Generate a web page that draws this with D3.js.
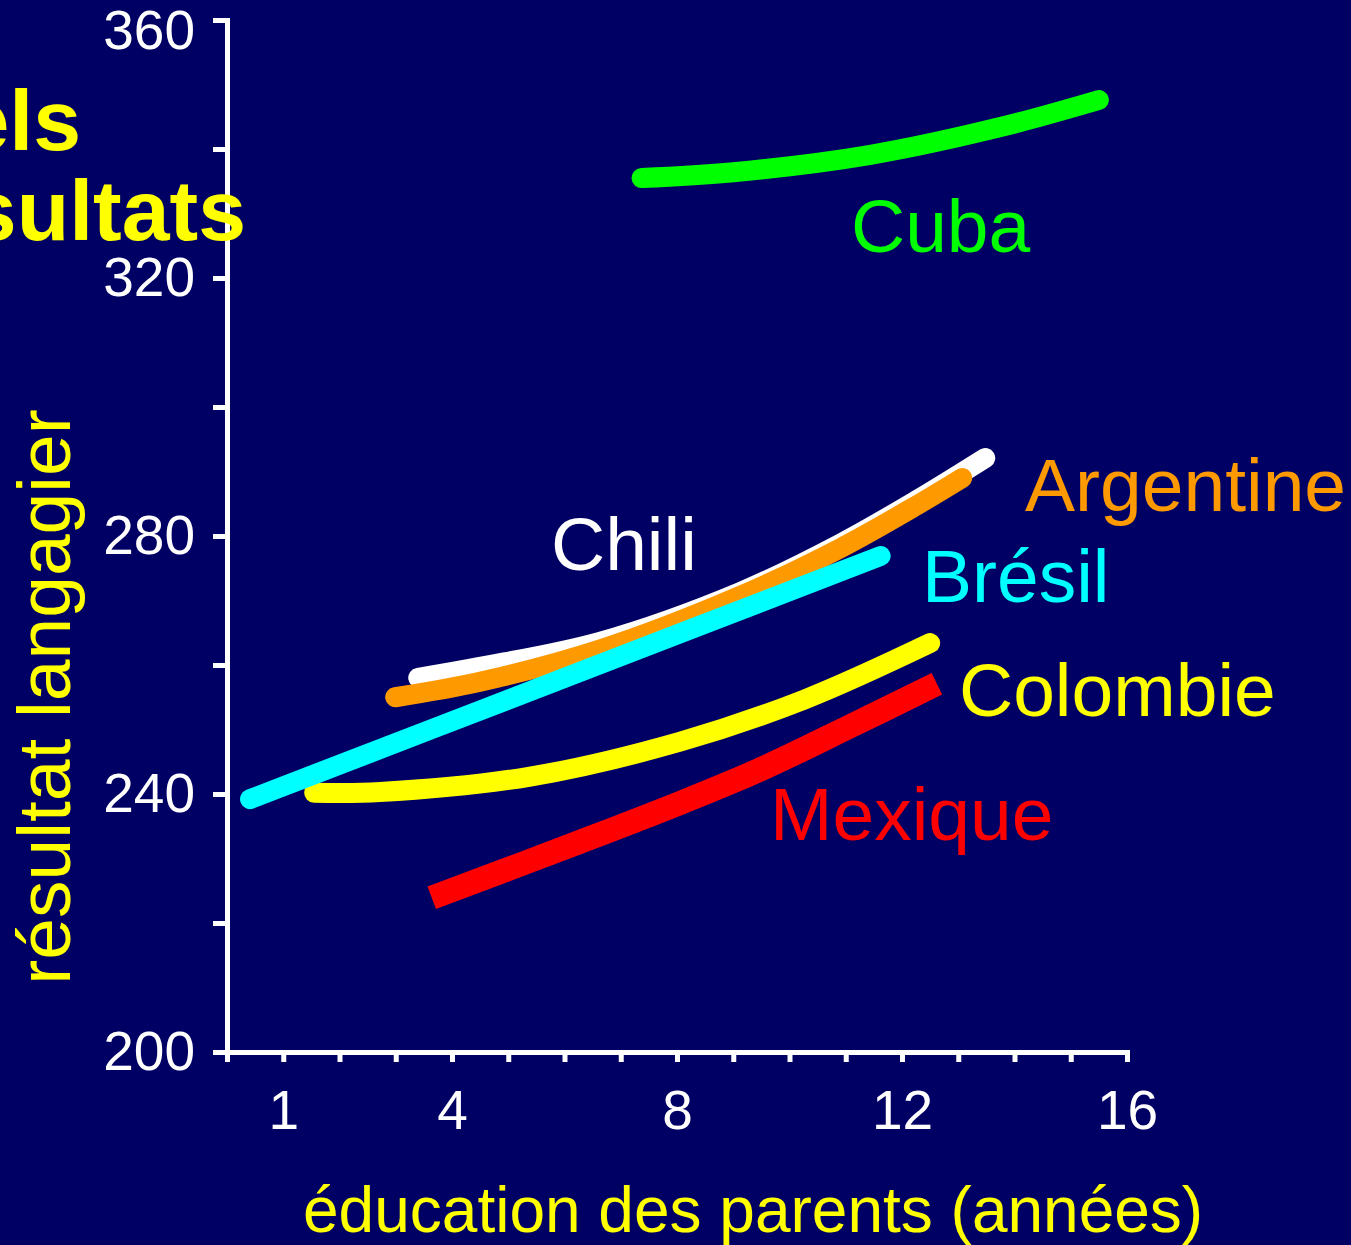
<!DOCTYPE html>
<html>
<head>
<meta charset="utf-8">
<script src="https://cdn.jsdelivr.net/npm/d3@7"></script>
<style>
  html, body { margin: 0; padding: 0; background: #000064; }
  svg { display: block; }
  text { font-family: "Liberation Sans", Arial, Helvetica, sans-serif; }
</style>
</head>
<body>
<svg id="chart" width="1351" height="1245"></svg>
<script>
// Years of parental education (x) against language score (y), by country
const countries = ["Chili", "Argentine", "Colombie", "Brésil", "Mexique", "Cuba"];
const colors    = ["#ffffff", "#ff9900", "#ffff00", "#00ffff", "#ff0000", "#00ff00"];
const widths    = [20, 20, 20, 20, 24, 20];

const chiliX     = [3.40, 4.50, 6.63, 9.12, 10.90, 12.27, 13.48];
const chiliY     = [258.0, 259.7, 263.6, 271.3, 278.8, 285.6, 292.1];
const argentineX = [2.99, 4.50, 6.63, 9.12, 10.90, 12.27, 13.07];
const argentineY = [255.0, 257.4, 262.4, 270.7, 278.1, 284.8, 289.0];
const colombieX  = [1.55, 2.72, 5.39, 8.05, 10.28, 12.5];
const colombieY  = [240.2, 240.3, 242.7, 248.1, 254.7, 263.4];
const bresilX    = [0.41, 6.0, 11.62];
const bresilY    = [239.2, 258.0, 276.9];
const mexiqueX   = [3.64, 6.28, 8.05, 9.48, 11.08, 12.62];
const mexiqueY   = [223.9, 232.6, 238.6, 243.8, 250.5, 257.1];
const cubaX      = [7.37, 9.0, 11.44, 13.75, 15.5];
const cubaY      = [335.5, 336.4, 339.1, 343.4, 347.6];

const xTicks = d3.range(0, 17, 1);
const xTickLabels = [1, 4, 8, 12, 16];
const yTicks = d3.range(200, 361, 20);
const yTickLabels = [200, 240, 280, 320, 360];

const xTitle = "éducation des parents (années)";
const yTitle = "résultat langagier";
const titleLines = ["els", "sultats"];

const seriesX = [chiliX, argentineX, colombieX, bresilX, mexiqueX, cubaX];
const seriesY = [chiliY, argentineY, colombieY, bresilY, mexiqueY, cubaY];

const svg = d3.select("#chart");
const W = 1351, H = 1245;

svg.append("rect").attr("width", W).attr("height", H).attr("fill", "#000064");

const x = d3.scaleLinear().domain([0, 16]).range([227, 1127]);
const y = d3.scaleLinear().domain([200, 360]).range([1052, 20]);

// Axes
const xAxis = d3.axisBottom(x)
  .tickValues(xTicks)
  .tickSize(10)
  .tickSizeOuter(0)
  .tickPadding(28)
  .tickFormat(d => xTickLabels.includes(d) ? d : "");

const yAxis = d3.axisLeft(y)
  .tickValues(yTicks)
  .tickSize(14)
  .tickSizeOuter(0)
  .tickPadding(18)
  .tickFormat(d => yTickLabels.includes(d) ? d : "");

const gx = svg.append("g")
  .attr("transform", `translate(0,${y(200)})`)
  .attr("color", "#ffffff")
  .call(xAxis);

const gy = svg.append("g")
  .attr("transform", `translate(${x(0)},0)`)
  .attr("color", "#ffffff")
  .call(yAxis);

[gx, gy].forEach(g => {
  g.select(".domain").attr("stroke-width", 5).attr("stroke-linecap", "square");
  g.selectAll(".tick line").attr("stroke-width", 5);
  g.selectAll(".tick text")
    .attr("font-size", 55)
    .attr("fill", "#ffffff")
    .style("font-family", '"Liberation Sans", Arial, sans-serif');
});
// keep the top label inside the frame
gy.selectAll(".tick text").filter(d => d === 360).attr("dy", "0.52em");

// Series lines
const line = d3.line()
  .x(d => x(d[0]))
  .y(d => y(d[1]))
  .curve(d3.curveCatmullRom.alpha(0.5));

countries.forEach((name, i) => {
  const pts = seriesX[i].map((v, k) => [v, seriesY[i][k]]);
  svg.append("path")
    .datum(pts)
    .attr("d", line)
    .attr("fill", "none")
    .attr("stroke", colors[i])
    .attr("stroke-width", widths[i])
    .attr("stroke-linecap", name === "Mexique" ? "butt" : "round")
    .attr("stroke-linejoin", "round");
});

// Country labels
const labelPos = {
  "Cuba":      [851, 252],
  "Argentine": [1025, 511],
  "Chili":     [551, 570],
  "Brésil":    [922, 602],
  "Colombie":  [959, 716],
  "Mexique":   [770, 840]
};
countries.forEach((name, i) => {
  svg.append("text")
    .attr("x", labelPos[name][0])
    .attr("y", labelPos[name][1])
    .attr("font-size", 75)
    .attr("fill", colors[i])
    .text(name);
});

// Axis titles
svg.append("text")
  .attr("x", 303)
  .attr("y", 1232)
  .attr("font-size", 64)
  .attr("fill", "#ffff00")
  .text(xTitle);

svg.append("text")
  .attr("transform", "translate(70,697) rotate(-90)")
  .attr("text-anchor", "middle")
  .attr("font-size", 75)
  .attr("fill", "#ffff00")
  .text(yTitle);

// Slide heading
svg.append("text")
  .attr("x", 81).attr("y", 150)
  .attr("text-anchor", "end")
  .attr("font-size", 86).attr("font-weight", "bold")
  .attr("fill", "#ffff00")
  .text(titleLines[0]);
svg.append("text")
  .attr("x", 246).attr("y", 240)
  .attr("text-anchor", "end")
  .attr("font-size", 86).attr("font-weight", "bold")
  .attr("fill", "#ffff00")
  .text(titleLines[1]);
</script>
</body>
</html>
